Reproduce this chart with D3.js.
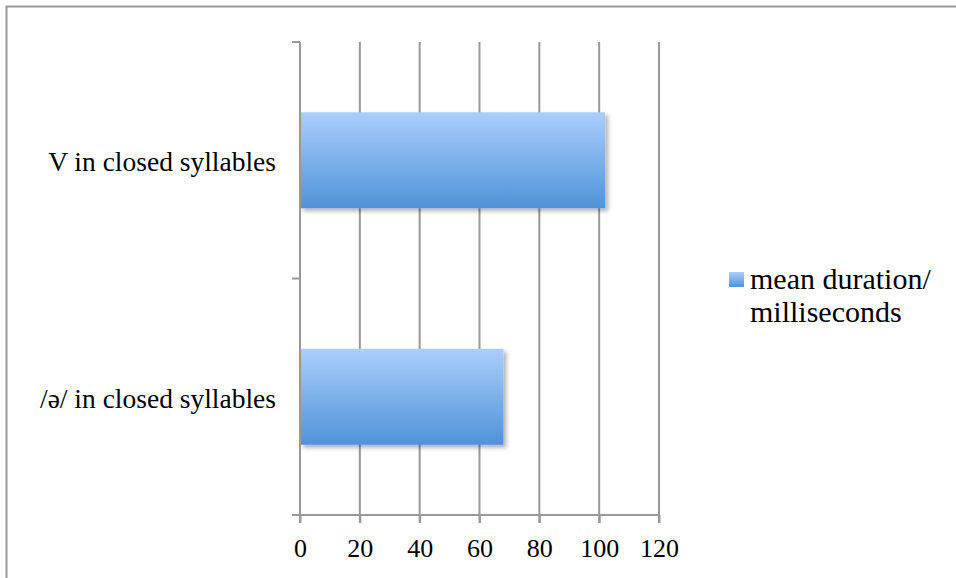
<!DOCTYPE html>
<html>
<head>
<meta charset="utf-8">
<script src="https://cdn.jsdelivr.net/npm/d3@7"></script>
<style>
  body { margin: 0; background: #fff; }
  svg text { font-family: "Liberation Serif", "DejaVu Serif", serif; fill: #000; }
</style>
</head>
<body>
<div id="chart"></div>
<script>
// data
var categories = ["V in closed syllables", "/ə/ in closed syllables"];
var values = [102, 68];
var seriesName = ["mean duration/", "milliseconds"];
var xTicks = [0, 20, 40, 60, 80, 100, 120];

var width = 956, height = 578;
var svg = d3.select("#chart").append("svg")
  .attr("width", width)
  .attr("height", height);

// outer frame (runs off the right and bottom edge)
svg.append("rect")
  .attr("x", 6.5).attr("y", 6.5)
  .attr("width", 1000).attr("height", 1000)
  .attr("fill", "none")
  .attr("stroke", "#999")
  .attr("stroke-width", 2);

var defs = svg.append("defs");
var grad = defs.append("linearGradient")
  .attr("id", "barGrad")
  .attr("x1", 0).attr("y1", 0).attr("x2", 0).attr("y2", 1);
grad.append("stop").attr("offset", "0%").attr("stop-color", "#abcefd");
grad.append("stop").attr("offset", "100%").attr("stop-color", "#4f93d8");

var shadow = defs.append("filter").attr("id", "shadow")
  .attr("x", "-5%").attr("y", "-10%").attr("width", "115%").attr("height", "130%");
shadow.append("feDropShadow")
  .attr("dx", 3).attr("dy", 3).attr("stdDeviation", 2)
  .attr("flood-color", "#000").attr("flood-opacity", 0.3);

var x = d3.scaleLinear().domain([0, 120]).range([300, 659]);
var y = d3.scaleBand().domain(categories).range([42, 515]).paddingInner(0).paddingOuter(0);

// gridlines
svg.append("g").selectAll("line")
  .data(xTicks.slice(1))
  .enter().append("line")
  .attr("x1", function(d) { return x(d); })
  .attr("x2", function(d) { return x(d); })
  .attr("y1", 42).attr("y2", 523)
  .attr("stroke", "#999")
  .attr("stroke-width", 2);

// bars
var barH = 96;
svg.append("g").selectAll("rect")
  .data(values)
  .enter().append("rect")
  .attr("x", x(0))
  .attr("y", function(d, i) { return y(categories[i]) + y.bandwidth() / 2 - barH / 2; })
  .attr("width", function(d) { return x(d) - x(0); })
  .attr("height", barH)
  .attr("fill", "url(#barGrad)")
  .attr("filter", "url(#shadow)");

// x axis
var xAxis = svg.append("g")
  .attr("transform", "translate(0,515)")
  .call(d3.axisBottom(x).tickValues(xTicks).tickSize(8).tickPadding(16).tickSizeOuter(0));
xAxis.select(".domain").attr("stroke", "#999").attr("stroke-width", 2)
  .attr("d", "M292,0H659");
xAxis.selectAll(".tick line").attr("stroke", "#999").attr("stroke-width", 2);
xAxis.selectAll(".tick text").attr("font-size", 26);

// y axis
var yAxis = svg.append("g")
  .attr("transform", "translate(300,0)")
  .call(d3.axisLeft(y).tickSize(0).tickPadding(24));
yAxis.select(".domain").attr("stroke", "#999").attr("stroke-width", 2)
  .attr("d", "M0,42V523");
yAxis.selectAll(".tick text").attr("font-size", 27.5).attr("dy", "0.4em");
// tick marks at band edges
svg.append("g").selectAll("line")
  .data([42, y(categories[1]), 515])
  .enter().append("line")
  .attr("x1", 292).attr("x2", 300)
  .attr("y1", function(d) { return d; })
  .attr("y2", function(d) { return d; })
  .attr("stroke", "#999")
  .attr("stroke-width", 2);

// legend
var legend = svg.append("g").attr("transform", "translate(729,272)");
legend.append("rect")
  .attr("width", 15).attr("height", 15)
  .attr("fill", "url(#barGrad)");
legend.selectAll("text")
  .data(seriesName)
  .enter().append("text")
  .attr("x", 21)
  .attr("y", function(d, i) { return 17 + i * 33; })
  .attr("font-size", 30)
  .text(function(d) { return d; });
</script>
</body>
</html>
